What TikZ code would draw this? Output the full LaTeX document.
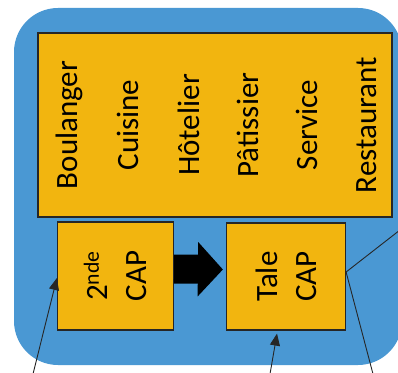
\documentclass[tikz,border=0pt]{standalone}
\usepackage{fontspec}
\setmainfont{Carlito}
\usetikzlibrary{arrows.meta, positioning}
\definecolor{fondbleu}{RGB}{74,152,211}
\definecolor{jaune}{RGB}{242,181,15}
\tikzset{
x=1pt, y=1pt, % pixel-like units
boite/.style={draw=black!85, line width=1.2pt, fill=jaune, inner sep=0pt}, % orange boxes
mot/.style={rotate=90, font=\fontsize{31}{39}\selectfont, align=center}, % rotated labels
lien/.style={draw=black!85, line width=0.9pt}, % thin connectors
pointe/.style={-{Triangle[length=12pt,width=10pt]}}, % small arrow heads
grossefleche/.style={line width=29pt, -{Triangle[length=25pt,width=53pt]}}, % thick black arrow
}

\begin{document}
\begin{tikzpicture}
      \useasboundingbox (0,0) rectangle (398,372);
      \fill[fondbleu, rounded corners=44pt] (14,7) rectangle (402,364);

      \node[boite, minimum width=354, minimum height=184] (metiers) at (215,247) {};
      \node[boite, minimum width=116, minimum height=108] (seconde) at (115.5,96) {};
      \node[boite, minimum width=119, minimum height=107] (terminale) at (286,95.5) {};

      \foreach \nom/\x [count=\i] in {Boulanger/69, Cuisine/128, Hôtelier/189, Pâtissier/248, Service/307, Restaurant/367}
        \node[mot] (metier\i) at (\x,247) {\nom};

      \node[mot] (txtseconde) at (seconde) {2\textsuperscript{nde}\\CAP};
      \node[mot] (txtterminale) at (terminale) {Tale\\CAP};

      % big arrow between the two years
      \draw[grossefleche] ([yshift=7pt]seconde.east) -- ([yshift=7pt,xshift=-3pt]terminale.west);

      % connectors coming from outside
      \coordinate (bas1) at (33,-2);
      \coordinate (bas2) at (270,-2);
      \coordinate (bas3) at (373,-2);
      \coordinate (droite) at (400,142);
      \coordinate (point) at (terminale.east |- 0,100);
      \draw[lien, pointe] (bas1) -- ([yshift=-2pt]seconde.west);
      \draw[lien, pointe] (bas2) -- ([yshift=-3pt,xshift=-9pt]terminale.south);
      \draw[lien] (bas3) -- (point) -- (droite);
    \end{tikzpicture}
\end{document}
